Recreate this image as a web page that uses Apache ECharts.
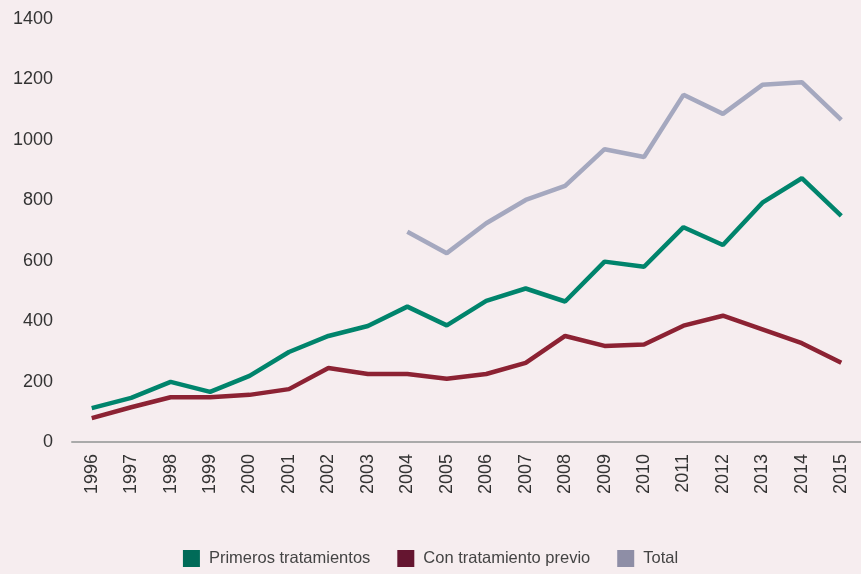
<!DOCTYPE html>
<html style="height: 100%">
  <head>
    <meta charset="utf-8" />
  </head>
  <body style="height: 100%; margin: 0; background: #f6edef">
    <div id="container" style="width: 861px; height: 574px"></div>

    <script
      type="text/javascript"
      src="https://cdn.jsdelivr.net/npm/echarts@6/dist/echarts.min.js"
    ></script>

    <script type="text/javascript">
      var years = [
        "1996", "1997", "1998", "1999", "2000", "2001", "2002", "2003", "2004", "2005",
        "2006", "2007", "2008", "2009", "2010", "2011", "2012", "2013", "2014", "2015"
      ];
      var primeros = [112, 146, 199, 166, 219, 298, 351, 384, 448, 386,
        467, 508, 465, 597, 580, 711, 652, 792, 873, 748];
      var previo = [79, 115, 148, 148, 156, 175, 245, 225, 225, 209,
        225, 262, 351, 318, 323, 385, 418, 373, 327, 262];
      var total = [null, null, null, null, null, null, null, null, 696, 625,
        724, 801, 848, 969, 943, 1149, 1086, 1182, 1191, 1066];

      var dom = document.getElementById("container");
      var myChart = echarts.init(dom);

      var textFont = "Liberation Sans, Arial, sans-serif";

      option = {
        backgroundColor: "#f6edef",
        animation: false,
        grid: {
          left: 72,
          top: 19,
          width: 794,
          height: 423,
        },
        legend: {
          bottom: 2,
          left: "center",
          icon: "rect",
          itemWidth: 17,
          itemHeight: 17,
          itemGap: 27,
          textStyle: {
            fontFamily: textFont,
            fontSize: 16.5,
            color: "#444",
            padding: [0, 0, 0, 4],
          },
          data: [
            { name: "Primeros tratamientos", itemStyle: { color: "#006b58" } },
            { name: "Con tratamiento previo", itemStyle: { color: "#651530" } },
            { name: "Total", itemStyle: { color: "#8e8ea6" } },
          ],
        },
        xAxis: {
          type: "category",
          data: years,
          axisLine: { lineStyle: { color: "#aaa", width: 2 } },
          axisTick: { show: false },
          axisLabel: {
            rotate: 90,
            interval: 0,
            margin: 12,
            fontFamily: textFont,
            fontSize: 18,
            color: "#333",
          },
        },
        yAxis: {
          type: "value",
          min: 0,
          max: 1400,
          interval: 200,
          splitLine: { show: false },
          axisLine: { show: false },
          axisTick: { show: false },
          axisLabel: {
            margin: 19,
            fontFamily: textFont,
            fontSize: 18,
            color: "#333",
            formatter: function (v) {
              return String(v);
            },
          },
        },
        series: [
          {
            name: "Primeros tratamientos",
            type: "line",
            data: primeros,
            symbol: "none",
            lineStyle: { color: "#00846c", width: 4.5 },
            itemStyle: { color: "#006b58" },
          },
          {
            name: "Con tratamiento previo",
            type: "line",
            data: previo,
            symbol: "none",
            lineStyle: { color: "#8c2233", width: 4.5 },
            itemStyle: { color: "#651530" },
          },
          {
            name: "Total",
            type: "line",
            data: total,
            symbol: "none",
            lineStyle: { color: "#a5a8bf", width: 4.5 },
            itemStyle: { color: "#8e8ea6" },
          },
        ],
      };

      option && myChart.setOption(option);
    </script>
  </body>
</html>
